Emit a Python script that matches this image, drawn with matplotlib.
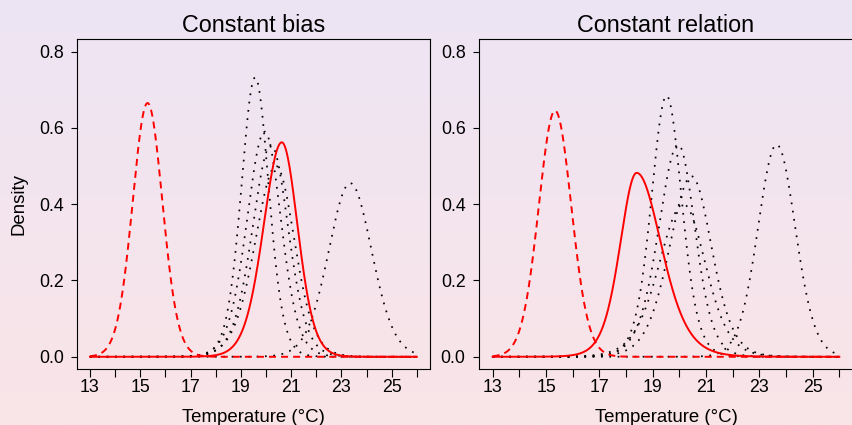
import numpy as np
import matplotlib
matplotlib.use("Agg")
import matplotlib.pyplot as plt
from matplotlib.colors import LinearSegmentedColormap

# ---------------- data ----------------
x_start, x_end = 13, 26
x_ticks = list(range(13, 27))
x_tick_labels = ["13", "", "15", "", "17", "", "19", "", "21", "", "23", "", "25", ""]
y_ticks = [0.0, 0.2, 0.4, 0.6, 0.8]
y_tick_labels = ["0.0", "0.2", "0.4", "0.6", "0.8"]
panel_titles = ["Constant bias", "Constant relation"]
x_label = "Temperature (°C)"
y_label = "Density"

# observed period density (red dashed): mode, peak density, left / right spread, tail weight
obs_mode = [15.29, 15.34]
obs_peak = [0.665, 0.645]
obs_sd_left = [0.60, 0.62]
obs_sd_right = [0.60, 0.62]
obs_tail = [30, 30]

# corrected projection density (red solid)
proj_mode = [20.63, 18.40]
proj_peak = [0.562, 0.482]
proj_sd_left = [0.74, 0.64]
proj_sd_right = [0.64, 0.95]
proj_tail = [15, 9]

# model projection densities (black dotted), panel 1: constant bias
bias_mode = [19.57, 19.95, 20.20, 20.40, 23.35]
bias_peak = [0.732, 0.590, 0.555, 0.500, 0.455]
bias_sd_left = [0.56, 0.72, 0.75, 0.84, 0.87]
bias_sd_right = [0.55, 0.66, 0.70, 0.75, 0.87]
bias_tail = [12, 12, 12, 12, 20]

# model projection densities (black dotted), panel 2: constant relation
rel_mode = [19.52, 19.96, 20.15, 20.46, 23.65]
rel_peak = [0.684, 0.556, 0.400, 0.473, 0.556]
rel_sd_left = [0.58, 0.75, 0.93, 0.85, 0.71]
rel_sd_right = [0.58, 0.64, 0.85, 0.77, 0.71]
rel_tail = [10, 10, 10, 10, 20]

# ---------------- drawing ----------------
def density(x, mode, peak, sdl, sdr, nu):
    sd = np.where(x < mode, sdl, sdr)
    z = (x - mode) / sd
    return peak * (1 + z ** 2 / nu) ** (-(nu + 1) / 2)

W, H = 852, 425
fig = plt.figure(figsize=(W / 100, H / 100), dpi=100)

# background gradient (lavender top -> pink bottom)
bg = fig.add_axes([0, 0, 1, 1], zorder=-10)
cmap = LinearSegmentedColormap.from_list(
    "bg", [(250 / 255, 228 / 255, 231 / 255), (237 / 255, 229 / 255, 244 / 255)])
bg.imshow(np.linspace(0, 1, 256).reshape(-1, 1), aspect="auto", cmap=cmap,
          origin="lower", extent=[0, 1, 0, 1])
bg.set_axis_off()

FONT = "Liberation Sans"
xs = np.linspace(x_start, x_end, 1200)

ax_rects = [
    [76.9 / W, (H - 369) / H, (429.9 - 76.9) / W, (369 - 39.3) / H],
    [478.8 / W, (H - 369) / H, (853.2 - 478.8) / W, (369 - 39.3) / H],
]
dotted_sets = [
    (bias_mode, bias_peak, bias_sd_left, bias_sd_right, bias_tail),
    (rel_mode, rel_peak, rel_sd_left, rel_sd_right, rel_tail),
]

for i in range(2):
    ax = fig.add_axes(ax_rects[i])
    ax.set_facecolor("none")
    modes, peaks, sls, srs, nus = dotted_sets[i]
    for m, p, sl, sr, nu in zip(modes, peaks, sls, srs, nus):
        ax.plot(xs, density(xs, m, p, sl, sr, nu), color="black", lw=1.25,
                linestyle=(0, (1, 3.8)), zorder=2)
    ax.plot(xs, density(xs, obs_mode[i], obs_peak[i], obs_sd_left[i],
                        obs_sd_right[i], obs_tail[i]),
            color="#ff0000", lw=1.4, linestyle=(0, (3.6, 2.6)), zorder=3)
    ax.plot(xs, density(xs, proj_mode[i], proj_peak[i], proj_sd_left[i],
                        proj_sd_right[i], proj_tail[i]),
            color="#ff0000", lw=1.4, linestyle="-", zorder=4)

    ax.set_xlim(12.48, 26.52)
    ax.set_ylim(-0.032, 0.832)
    ax.set_xticks(x_ticks)
    ax.set_xticklabels(x_tick_labels, fontfamily=FONT, fontsize=12.8)
    ax.set_yticks(y_ticks)
    ax.set_yticklabels(y_tick_labels, fontfamily=FONT, fontsize=12.8)
    ax.tick_params(axis="x", length=5.5, width=0.8, pad=1.5, direction="out")
    ax.tick_params(axis="y", length=4.5, width=0.8, pad=5.0, direction="out")
    for s in ax.spines.values():
        s.set_linewidth(0.8)
        s.set_color("black")
    ax.set_title(panel_titles[i], fontfamily=FONT, fontsize=16.8, pad=5.5)
    ax.set_xlabel(x_label, fontfamily=FONT, fontsize=13.4, labelpad=9.5)
    if i == 0:
        ax.set_ylabel(y_label, fontfamily=FONT, fontsize=13.4, labelpad=8)

fig.savefig("out.png", dpi=100)
